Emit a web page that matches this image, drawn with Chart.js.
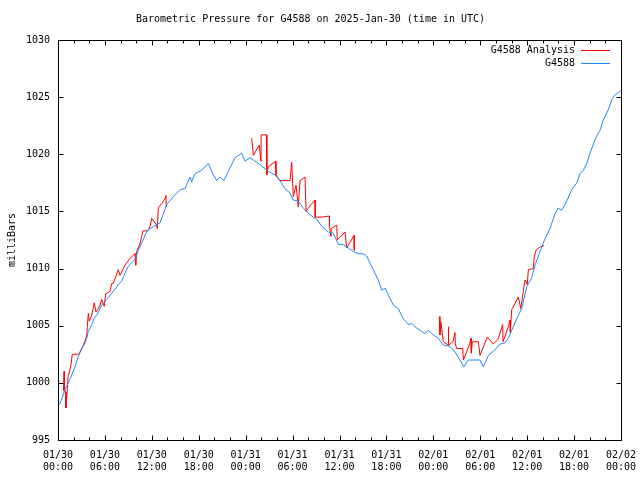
<!DOCTYPE html>
<html>
<head>
<meta charset="utf-8">
<title>Barometric Pressure G4588</title>
<script src="https://cdn.jsdelivr.net/npm/chart.js@4/dist/chart.umd.min.js"></script>
<style>
  html, body { margin: 0; padding: 0; background: #fff; }
  #wrap { width: 640px; height: 480px; }
</style>
</head>
<body>
<div id="wrap"><canvas id="grafico" width="640" height="480"></canvas></div>
<script>
// etiquetas del eje x (cada 6 horas)
const tickDates = ['01/30','01/30','01/30','01/30','01/31','01/31','01/31','01/31','02/01','02/01','02/01','02/01','02/02'];
const tickTimes = ['00:00','06:00','12:00','18:00','00:00','06:00','12:00','18:00','00:00','06:00','12:00','18:00','00:00'];

// G4588 (horas desde 01/30 00:00, milliBars)
const stationHours = [0.00,0.26,0.90,1.53,2.17,2.60,3.03,3.45,3.67,3.88,4.31,4.73,4.95,5.59,6.23,7.07,7.71,8.15,8.57,8.99,
  9.43,9.85,10.27,10.87,11.38,11.77,13.05,13.90,14.75,15.60,16.24,16.88,17.10,17.52,18.38,19.22,19.86,20.30,20.72,21.23,
  21.78,22.64,23.49,23.92,24.56,24.98,25.83,26.90,27.75,28.39,29.03,29.67,30.09,30.73,31.37,32.23,33.09,33.72,34.57,35.21,
  35.85,36.49,37.13,37.77,38.41,39.05,39.48,39.81,40.32,40.96,41.40,41.82,42.46,42.88,43.52,44.16,44.80,45.24,45.66,46.30,
  46.94,47.36,48.00,48.64,49.28,50.13,50.77,51.41,51.92,52.47,53.33,53.97,54.39,55.03,55.89,56.53,57.17,57.59,58.02,58.66,
  59.30,59.94,60.58,61.01,61.64,62.28,62.92,63.56,63.99,64.42,65.06,65.70,66.34,66.76,67.18,67.62,68.04,68.68,69.32,69.74,
  70.38,70.82,71.24,71.88,72.00];
const stationValues = [998.0,998.2,999.4,1000.3,1001.4,1002.3,1003.0,1003.5,1003.9,1004.5,1005.1,1005.8,1005.9,1006.8,1007.3,1008.0,1008.6,1008.9,1009.6,1010.2,
  1010.5,1010.8,1011.6,1012.5,1013.3,1013.5,1014.0,1015.6,1016.3,1016.9,1017.0,1018.0,1017.6,1018.3,1018.6,1019.2,1018.2,1017.7,1018.0,1017.7,
  1018.5,1019.7,1020.1,1019.4,1019.7,1019.5,1019.1,1018.5,1018.2,1017.7,1017.0,1016.6,1016.0,1015.9,1015.3,1014.7,1014.3,1013.7,1013.2,1013.1,
  1012.1,1012.1,1011.8,1011.5,1011.3,1011.3,1011.1,1010.6,1009.9,1009.0,1008.1,1008.3,1007.4,1006.8,1006.5,1005.6,1005.1,1005.2,1004.9,1004.6,
  1004.3,1004.6,1004.2,1003.9,1003.3,1003.2,1002.7,1002.0,1001.4,1002.0,1002.0,1002.0,1001.4,1002.4,1002.9,1003.4,1003.5,1003.9,1004.6,1005.6,
  1006.5,1008.4,1009.2,1010.3,1011.5,1012.6,1013.5,1014.8,1015.3,1015.1,1015.9,1016.9,1017.5,1018.3,1018.6,1019.2,1020.1,1021.3,1022.1,1023.0,
  1023.9,1024.8,1025.2,1025.5,1025.6];

// G4588 Analysis (null corta la linea)
const analysisHours = [0.70,0.77,0.83,0.96,1.02,1.15,1.28,1.62,1.83,2.60,2.81,3.24,3.67,3.75,3.88,4.00,4.31,4.64,4.86,5.08,
  5.37,5.59,5.92,6.10,6.65,6.87,7.07,7.71,7.93,8.57,9.21,9.85,9.94,10.07,10.49,10.87,11.51,11.77,11.98,12.62,
  12.70,12.83,13.26,13.68,13.81,13.84,
  20.00,
  24.77,24.98,25.74,25.96,25.98,26.69,26.71,26.90,27.84,27.87,28.39,29.03,29.67,29.89,30.09,30.44,30.73,30.95,31.59,31.72,
  32.01,32.87,32.89,33.72,34.70,34.72,34.91,34.94,35.64,35.72,36.70,36.92,37.86,37.89,
  43.00,
  48.76,48.85,48.98,49.28,49.88,49.92,49.97,50.52,50.77,50.81,50.99,51.76,51.84,52.60,52.82,52.86,52.99,53.75,53.97,54.90,
  55.67,56.27,56.87,56.91,57.59,57.81,57.85,58.02,58.87,59.18,59.51,59.73,60.02,60.15,60.79,60.88,61.13,61.64,62.15];
const analysisValues = [999.3,1001.0,999.5,999.2,997.8,999.0,1000.5,1001.4,1002.5,1002.5,1002.7,1003.3,1004.1,1004.9,1006.1,1005.4,1005.9,1007.0,1006.2,1006.4,
  1006.8,1007.3,1006.7,1007.8,1008.0,1008.7,1008.7,1009.9,1009.4,1010.3,1010.9,1011.3,1010.3,1011.5,1012.2,1013.3,1013.3,1013.7,1014.4,1013.8,
  1013.5,1015.3,1015.7,1016.1,1016.4,1015.4,
  null,
  1021.4,1019.9,1020.8,1019.4,1021.7,1021.7,1018.2,1018.9,1019.4,1018.2,1017.7,1017.7,1017.7,1019.3,1016.3,1017.3,1015.4,1017.7,1018.0,1015.0,
  1015.3,1016.0,1014.5,1014.5,1014.6,1013.7,1012.8,1013.5,1013.8,1012.5,1013.2,1011.8,1012.9,1011.6,
  null,
  1005.8,1004.2,1005.3,1003.6,1003.3,1004.9,1003.3,1003.6,1004.4,1003.4,1003.0,1003.0,1002.0,1003.3,1003.9,1002.6,1003.6,1003.6,1002.4,1004.0,
  1003.4,1003.8,1005.1,1003.6,1004.9,1005.5,1004.4,1006.4,1007.5,1006.5,1008.0,1009.0,1008.6,1009.9,1010.0,1010.9,1011.6,1011.9,1012.0];

const fuente = "'DejaVu Sans Mono', 'Liberation Mono', monospace";

function puntos(horas, valores){
    let salida = [];
    for (var i = 0; i < horas.length; i++) {
        salida.push({x: horas[i], y: valores[i]});
    }
    return salida;
}

// marco, marcas hacia dentro y leyenda estilo gnuplot
const marcoGnuplot = {
    id: 'marcoGnuplot',
    afterDatasetsDraw(chart) {
        const ctx = chart.ctx;
        const a = chart.chartArea;
        const sx = chart.scales.x;
        const sy = chart.scales.y;
        const l = Math.round(a.left) + 0.5, r = Math.round(a.right) + 0.5;
        const t = Math.round(a.top) + 0.5, b = Math.round(a.bottom) + 0.5;
        ctx.save();
        ctx.strokeStyle = '#000';
        ctx.lineWidth = 1;
        ctx.beginPath();
        for (let h = sx.min; h <= sx.max; h += 2) {
            const px = Math.round(sx.getPixelForValue(h)) + 0.5;
            const largo = (h % 6 === 0) ? 5 : 3;
            ctx.moveTo(px, b); ctx.lineTo(px, b - largo);
            ctx.moveTo(px, t); ctx.lineTo(px, t + largo);
        }
        for (let v = sy.min; v <= sy.max; v += 5) {
            const py = Math.round(sy.getPixelForValue(v)) + 0.5;
            ctx.moveTo(l, py); ctx.lineTo(l + 5, py);
            ctx.moveTo(r, py); ctx.lineTo(r - 5, py);
        }
        ctx.stroke();
        ctx.strokeRect(l, t, r - l, b - t);

        // leyenda
        ctx.font = '10px ' + fuente;
        ctx.textAlign = 'right';
        ctx.textBaseline = 'middle';
        const orden = [1, 0];
        orden.forEach((idx, fila) => {
            const ds = chart.data.datasets[idx];
            const y = Math.round(a.top + 10 + fila * 13) + 0.5;
            ctx.fillStyle = '#000';
            ctx.fillText(ds.label, a.right - 46, y);
            ctx.strokeStyle = ds.borderColor;
            ctx.beginPath();
            ctx.moveTo(a.right - 40, y);
            ctx.lineTo(a.right - 11, y);
            ctx.stroke();
        });
        ctx.restore();
    }
};

const ctx = document.getElementById('grafico');
const myChart = new Chart(ctx, {
    type: 'line',
    data: {
        datasets: [{
            label: 'G4588',
            data: puntos(stationHours, stationValues),
            borderColor: '#1e88ff',
            borderWidth: 1,
            pointRadius: 0,
            tension: 0,
            order: 0
        }, {
            label: 'G4588 Analysis',
            data: puntos(analysisHours, analysisValues),
            borderColor: '#ff0000',
            borderWidth: 1,
            pointRadius: 0,
            tension: 0,
            spanGaps: false,
            order: 1
        }]
    },
    options: {
        responsive: false,
        animation: false,
        layout: { padding: { left: 0, right: 19, top: 0, bottom: 0 } },
        plugins: {
            legend: { display: false },
            tooltip: { enabled: false },
            title: {
                display: true,
                text: 'Barometric Pressure for G4588 on 2025-Jan-30 (time in UTC)',
                color: '#000',
                font: { family: fuente, size: 10, weight: 'normal' },
                padding: { top: 13, bottom: 15 }
            }
        },
        scales: {
            x: {
                type: 'linear',
                min: 0,
                max: 72,
                grid: { display: false, drawTicks: false },
                border: { display: false },
                afterFit: function(scale){
                    scale.height = 40;
                    scale.paddingLeft = 0;
                    scale.paddingRight = 0;
                },
                ticks: {
                    stepSize: 6,
                    autoSkip: false,
                    maxRotation: 0,
                    padding: 9,
                    color: '#000',
                    font: { family: fuente, size: 10 },
                    callback: function(value){
                        const i = Math.round(value / 6);
                        return [tickDates[i], tickTimes[i]];
                    }
                }
            },
            y: {
                min: 995,
                max: 1030,
                grid: { display: false, drawTicks: false },
                border: { display: false },
                afterFit: function(scale){
                    scale.width = 58;
                    scale.paddingTop = 0;
                    scale.paddingBottom = 0;
                },
                title: {
                    display: true,
                    text: 'milliBars',
                    color: '#000',
                    font: { family: fuente, size: 10 },
                    padding: { top: 6, bottom: 0 }
                },
                ticks: {
                    stepSize: 5,
                    padding: 8,
                    color: '#000',
                    font: { family: fuente, size: 10 },
                    callback: function(value){ return String(value); }
                }
            }
        }
    },
    plugins: [marcoGnuplot]
});
</script>
</body>
</html>
